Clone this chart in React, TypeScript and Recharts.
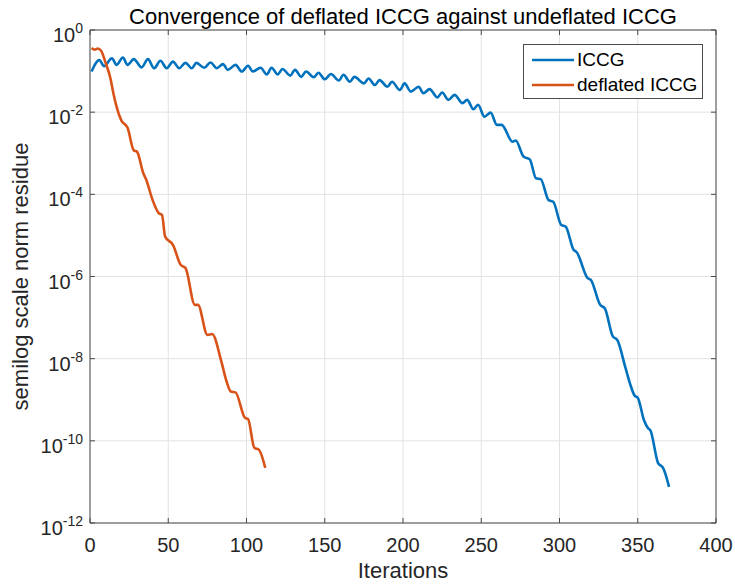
import { LineChart, Line, XAxis, YAxis, CartesianGrid, Legend } from 'recharts'

// iterations and log10(residue) (peaks/troughs of the ripples)
const iccgIter = [
  1, 6, 9, 14, 17, 21, 24, 28, 33, 37, 41, 45, 49, 53, 57, 61, 65, 68, 73, 77,
  81, 85, 88, 93, 97, 101, 104, 109, 113, 116, 120, 123, 128, 131, 135, 138, 143, 146, 150, 154,
  159, 162, 166, 169, 175, 178, 182, 185, 190, 193, 198, 201, 205, 210, 213, 217, 222, 225, 229, 233,
  238, 241, 245, 248, 252, 256, 260, 263, 270, 272, 277, 281, 285, 288, 293, 296, 301, 304, 309, 311,
  318, 320, 326, 329, 334, 337, 342, 345, 348, 350, 354, 357, 358, 363, 365, 366, 370,
]
const iccgLog10 = [
  -1.01, -0.73, -0.88, -0.69, -0.85, -0.67, -0.85, -0.71, -0.91, -0.71, -0.93, -0.75, -0.93, -0.77, -0.93, -0.8, -0.93, -0.8, -0.92, -0.79,
  -0.93, -0.83, -0.97, -0.85, -1.01, -0.87, -1.01, -0.92, -1.08, -0.92, -1.08, -0.95, -1.11, -0.97, -1.14, -1.01, -1.15, -1.04, -1.2, -1.07,
  -1.23, -1.09, -1.26, -1.14, -1.3, -1.18, -1.34, -1.22, -1.38, -1.26, -1.46, -1.3, -1.5, -1.38, -1.54, -1.44, -1.64, -1.52, -1.7, -1.58,
  -1.78, -1.7, -1.93, -1.82, -2.11, -2.01, -2.31, -2.31, -2.72, -2.69, -3.08, -3.15, -3.61, -3.63, -4.14, -4.18, -4.74, -4.79, -5.35, -5.41,
  -6.04, -6.08, -6.69, -6.78, -7.45, -7.55, -8.2, -8.6, -8.9, -8.95, -9.5, -9.71, -9.74, -10.54, -10.61, -10.65, -11.12,
]

const deflIter = [
  1, 3, 5, 7, 10, 13, 15, 17, 20, 24, 28, 30, 34, 36, 40, 44, 46, 48, 53, 58,
  61, 67, 69, 75, 78, 84, 87, 90, 93, 99, 101, 105, 108, 112,
]
const deflLog10 = [
  -0.44, -0.48, -0.45, -0.5, -0.8, -1.17, -1.55, -1.87, -2.2, -2.38, -2.93, -2.96, -3.48, -3.65, -4.14, -4.46, -4.5, -5.03, -5.23, -5.72,
  -5.79, -6.69, -6.69, -7.42, -7.4, -8.08, -8.52, -8.8, -8.82, -9.44, -9.47, -10.17, -10.22, -10.66,
]

const xTicks = [0, 50, 100, 150, 200, 250, 300, 350, 400]
const yExponents = [-12, -10, -8, -6, -4, -2, 0]

const iccgData = iccgIter.map((it, i) => ({ it, v: 10 ** iccgLog10[i] }))
const deflData = deflIter.map((it, i) => ({ it, v: 10 ** deflLog10[i] }))
const yTicks = yExponents.map((e) => 10 ** e)

const FONT = '"Liberation Sans", Arial, sans-serif'
const AXIS = '#4a4a4a'
const TEXT = '#262626'
const BLUE = '#0072BD'
const ORANGE = '#D95319'
const TICK_LEN = 5

const BottomTick = ({ x, y, payload }: any) => (
  <g>
    <line x1={x} y1={y} x2={x} y2={y - TICK_LEN} stroke={AXIS} />
    <text x={x} y={y + 29} textAnchor="middle" fontSize={20} fill={TEXT} fontFamily={FONT}>
      {payload.value}
    </text>
  </g>
)

const TopTick = ({ x, y }: any) => <line x1={x} y1={y} x2={x} y2={y + TICK_LEN} stroke={AXIS} />

const LeftTick = ({ x, y, payload }: any) => {
  const exp = Math.round(Math.log10(payload.value))
  return (
    <g>
      <line x1={x} y1={y} x2={x + TICK_LEN} y2={y} stroke={AXIS} />
      <text x={x - 7} y={y + 12} textAnchor="end" fontSize={20} fill={TEXT} fontFamily={FONT}>
        10
        <tspan dy={-9} fontSize={14}>
          {String(exp)}
        </tspan>
      </text>
    </g>
  )
}

const RightTick = ({ x, y }: any) => <line x1={x} y1={y} x2={x - TICK_LEN} y2={y} stroke={AXIS} />

const series = [
  { name: 'ICCG', color: BLUE },
  { name: 'deflated ICCG', color: ORANGE },
]

const renderLegend = () => (
  <div
    style={{
      position: 'relative',
      width: 180,
      height: 55,
      boxSizing: 'border-box',
      border: `1px solid ${AXIS}`,
      background: '#fff',
      fontFamily: FONT,
      fontSize: 19,
      color: '#000',
    }}
  >
    {series.map((s, i) => (
      <div
        key={s.name}
        style={{
          position: 'absolute',
          left: 7,
          top: 2 + i * 25,
          height: 25,
          display: 'flex',
          alignItems: 'center',
          whiteSpace: 'nowrap',
        }}
      >
        <svg width={46} height={6} style={{ marginRight: 0 }}>
          <line x1={1} y1={3} x2={43} y2={3} stroke={s.color} strokeWidth={2.6} />
        </svg>
        <span>{s.name}</span>
      </div>
    ))}
  </div>
)

export default function App() {
  return (
    <div style={{ position: 'absolute', left: 0, top: 0, width: 735, height: 587, background: '#fff' }}>
      <LineChart width={735} height={587} margin={{ top: 0, right: 0, bottom: 0, left: 0 }}>
        <CartesianGrid stroke="#e2e2e2" />
        <XAxis
          type="number"
          dataKey="it"
          domain={[0, 400]}
          ticks={xTicks}
          interval={0}
          allowDataOverflow
          height={64}
          tickSize={0}
          tickMargin={0}
          tick={BottomTick}
          axisLine={{ stroke: AXIS }}
          label={{
            content: () => (
              <text x={403} y={578} textAnchor="middle" fontSize={22} fill={TEXT} fontFamily={FONT}>
                Iterations
              </text>
            ),
          }}
        />
        <XAxis
          xAxisId="top"
          orientation="top"
          type="number"
          dataKey="it"
          domain={[0, 400]}
          ticks={xTicks}
          interval={0}
          allowDataOverflow
          height={30}
          tickSize={0}
          tickMargin={0}
          tick={TopTick}
          axisLine={{ stroke: AXIS }}
          label={{
            content: () => (
              <text x={403} y={24} textAnchor="middle" fontSize={22} fill="#000" fontFamily={FONT}>
                Convergence of deflated ICCG against undeflated ICCG
              </text>
            ),
          }}
        />
        <YAxis
          type="number"
          scale="log"
          domain={[1e-12, 1]}
          ticks={yTicks}
          interval={0}
          allowDataOverflow
          width={90}
          tickSize={0}
          tickMargin={0}
          tick={LeftTick}
          axisLine={{ stroke: AXIS }}
          label={{
            content: () => (
              <text
                x={28}
                y={276.5}
                transform="rotate(-90, 28, 276.5)"
                textAnchor="middle"
                fontSize={22}
                fill={TEXT}
                fontFamily={FONT}
              >
                semilog scale norm residue
              </text>
            ),
          }}
        />
        <YAxis
          yAxisId="right"
          orientation="right"
          type="number"
          scale="log"
          domain={[1e-12, 1]}
          ticks={yTicks}
          interval={0}
          allowDataOverflow
          width={19}
          tickSize={0}
          tickMargin={0}
          tick={RightTick}
          axisLine={{ stroke: AXIS }}
        />
        <Legend
          layout="vertical"
          align="center"
          verticalAlign="middle"
          wrapperStyle={{ top: 44, left: 523, width: 180 }}
          content={renderLegend}
        />
        <Line
          data={iccgData}
          dataKey="v"
          name="ICCG"
          type="monotoneX"
          stroke={BLUE}
          strokeWidth={2.6}
          dot={false}
          isAnimationActive={false}
        />
        <Line
          data={deflData}
          dataKey="v"
          name="deflated ICCG"
          type="monotoneX"
          stroke={ORANGE}
          strokeWidth={2.6}
          dot={false}
          isAnimationActive={false}
        />
      </LineChart>
    </div>
  )
}
